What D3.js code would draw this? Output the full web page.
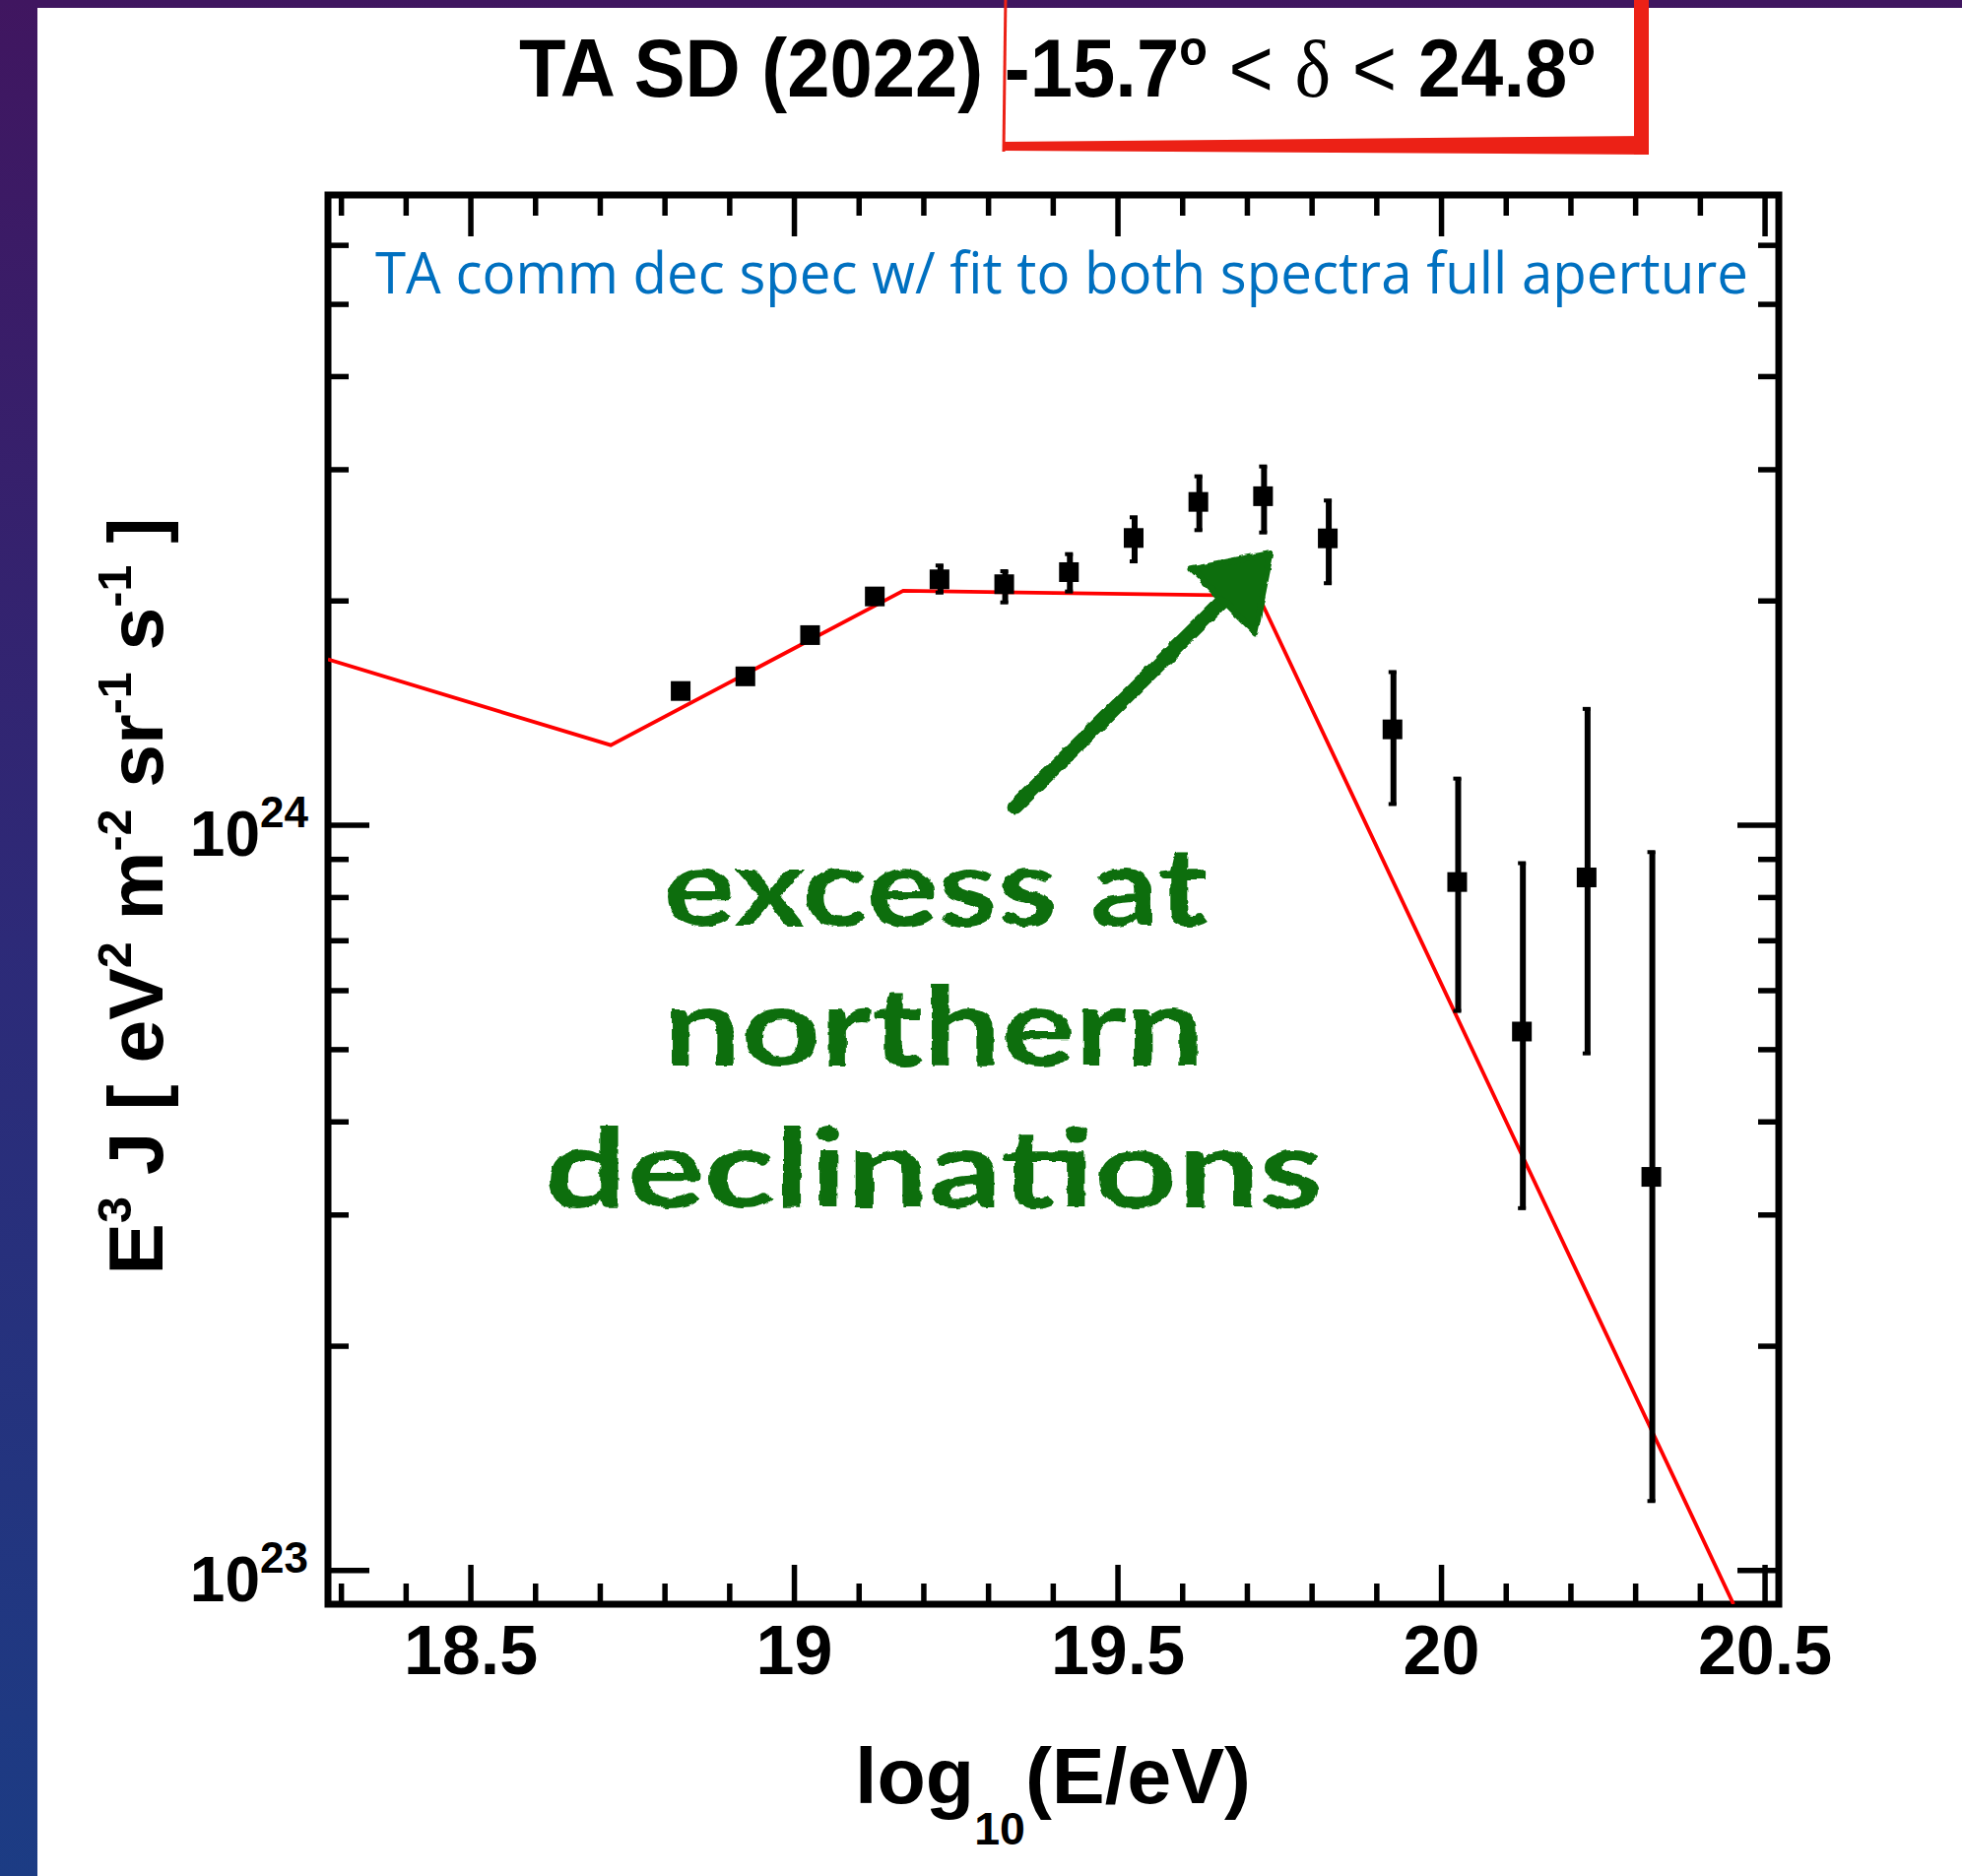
<!DOCTYPE html>
<html>
<head>
<meta charset="utf-8">
<script src="https://cdn.jsdelivr.net/npm/d3@7"></script>
<style>
  body { margin: 0; background: #fff; }
  svg { display: block; }
</style>
</head>
<body>
<div id="chart"></div>
<script>
// TA SD (2022) spectrum, -15.7 < dec < 24.8, with common-declination fit

// data points: log10(E/eV) bin centres, E^3 J and error bar ends
var logE = [18.825, 18.925, 19.025, 19.125, 19.225, 19.325, 19.425, 19.525,
            19.625, 19.725, 19.825, 19.925, 20.025, 20.125, 20.225, 20.325];
var flux = [1.512e24, 1.582e24, 1.797e24, 2.025e24, 2.135e24, 2.103e24, 2.183e24, 2.426e24,
            2.712e24, 2.760e24, 2.423e24, 1.343e24, 8.38e23, 5.28e23, 8.50e23, 3.37e23];
var fluxHi = [1.55e24, 1.62e24, 1.84e24, 2.07e24, 2.235e24, 2.196e24, 2.315e24, 2.594e24,
              2.944e24, 3.035e24, 2.732e24, 1.608e24, 1.157e24, 8.91e23, 1.435e24, 9.22e23];
var fluxLo = [1.475e24, 1.545e24, 1.755e24, 1.98e24, 2.043e24, 1.982e24, 2.05e24, 2.25e24,
              2.478e24, 2.46e24, 2.103e24, 1.063e24, 5.61e23, 3.05e23, 4.92e23, 1.234e23];

// broken power law fit (break points)
var fitLogE = [18.28, 18.717, 19.169, 19.718, 20.452];
var fitFlux = [1.667e24, 1.279e24, 2.061e24, 2.029e24, 9.0e22];

// axis ticks
var xMajor = [18.5, 19, 19.5, 20, 20.5];
var xMinor = [18.3, 18.4, 18.6, 18.7, 18.8, 18.9, 19.1, 19.2, 19.3, 19.4, 19.6, 19.7,
              19.8, 19.9, 20.1, 20.2, 20.3, 20.4];
var yMajor = [1e23, 1e24];
var yMinor = [2e23, 3e23, 4e23, 5e23, 6e23, 7e23, 8e23, 9e23, 2e24, 3e24, 4e24, 5e24, 6e24];

// annotation arrow (data coords): tail -> tip
var arrowFrom = [19.341, 1.055e24];
var arrowTo = [19.737, 2.313e24];
var noteLines = ["excess at", "northern", "declinations"];

var W = 1992, H = 1905;
var frame = { left: 333, right: 1806, top: 198, bottom: 1629 };

var svg = d3.select("#chart").append("svg")
  .attr("width", W)
  .attr("height", H);

var defs = svg.append("defs");
var bg = defs.append("linearGradient")
  .attr("id", "slideBg")
  .attr("x1", 0).attr("y1", 0).attr("x2", 0).attr("y2", 1);
bg.append("stop").attr("offset", "0%").attr("stop-color", "#401660");
bg.append("stop").attr("offset", "50%").attr("stop-color", "#2d2a78");
bg.append("stop").attr("offset", "100%").attr("stop-color", "#1c3c84");

var rough = defs.append("filter").attr("id", "rough")
  .attr("x", "-5%").attr("y", "-10%").attr("width", "110%").attr("height", "120%");
rough.append("feTurbulence")
  .attr("type", "fractalNoise")
  .attr("baseFrequency", 0.09)
  .attr("numOctaves", 2)
  .attr("seed", 3)
  .attr("result", "noise");
rough.append("feDisplacementMap")
  .attr("in", "SourceGraphic")
  .attr("in2", "noise")
  .attr("scale", 5)
  .attr("xChannelSelector", "R")
  .attr("yChannelSelector", "G");

defs.append("clipPath").attr("id", "plotClip")
  .append("rect")
  .attr("x", frame.left).attr("y", frame.top)
  .attr("width", frame.right - frame.left)
  .attr("height", frame.bottom - frame.top);

// slide background + white panel
svg.append("rect").attr("width", W).attr("height", H).attr("fill", "url(#slideBg)");
svg.append("rect").attr("x", 38).attr("y", 8).attr("width", W - 38).attr("height", H - 8)
  .attr("fill", "#fff");

// scales
var x = d3.scaleLinear().domain([18.28, 20.522]).range([frame.left, frame.right]);
var y = d3.scaleLog().domain([9e22, 7e24]).range([frame.bottom, frame.top]);

var axisFont = "'Liberation Sans', Arial, Helvetica, sans-serif";

function styleAxis(g) {
  g.select(".domain").remove();
  g.selectAll(".tick line").attr("stroke", "#000").attr("stroke-width", 5.5);
}

// bottom axis
svg.append("g")
  .attr("transform", `translate(0, ${frame.bottom})`)
  .call(d3.axisBottom(x).tickValues(xMinor).tickSize(-21).tickFormat(""))
  .call(styleAxis);

svg.append("g")
  .attr("transform", `translate(0, ${frame.bottom})`)
  .call(d3.axisBottom(x).tickValues(xMajor).tickSize(-40).tickPadding(21)
    .tickFormat(d => d % 1 === 0 ? d3.format("d")(d) : d3.format(".1f")(d)))
  .call(styleAxis)
  .call(g => g.selectAll(".tick text")
    .attr("font-family", axisFont)
    .attr("font-weight", "bold")
    .attr("font-size", 70)
    .attr("fill", "#000"));

// top axis
svg.append("g")
  .attr("transform", `translate(0, ${frame.top})`)
  .call(d3.axisTop(x).tickValues(xMinor).tickSize(-21).tickFormat(""))
  .call(styleAxis);
svg.append("g")
  .attr("transform", `translate(0, ${frame.top})`)
  .call(d3.axisTop(x).tickValues(xMajor).tickSize(-42).tickFormat(""))
  .call(styleAxis);

// left axis
svg.append("g")
  .attr("transform", `translate(${frame.left}, 0)`)
  .call(d3.axisLeft(y).tickValues(yMinor).tickSize(-21).tickFormat(""))
  .call(styleAxis);

var yLeft = svg.append("g")
  .attr("transform", `translate(${frame.left}, 0)`)
  .call(d3.axisLeft(y).tickValues(yMajor).tickSize(-42).tickPadding(20).tickFormat(""))
  .call(styleAxis);

yLeft.selectAll(".tick text").each(function(d) {
  var t = d3.select(this)
    .attr("dy", null)
    .attr("y", 31)
    .attr("font-family", axisFont)
    .attr("font-weight", "bold")
    .attr("fill", "#000")
    .text(null);
  t.append("tspan").attr("font-size", 64).text("10");
  t.append("tspan").attr("font-size", 44).attr("dy", -29).text(Math.round(Math.log10(d)));
});

// right axis
svg.append("g")
  .attr("transform", `translate(${frame.right}, 0)`)
  .call(d3.axisRight(y).tickValues(yMinor).tickSize(-21).tickFormat(""))
  .call(styleAxis);
svg.append("g")
  .attr("transform", `translate(${frame.right}, 0)`)
  .call(d3.axisRight(y).tickValues(yMajor).tickSize(-42).tickFormat(""))
  .call(styleAxis);

// frame
svg.append("rect")
  .attr("x", frame.left).attr("y", frame.top)
  .attr("width", frame.right - frame.left)
  .attr("height", frame.bottom - frame.top)
  .attr("fill", "none")
  .attr("stroke", "#000")
  .attr("stroke-width", 7);

// fit line
var fitLine = d3.line()
  .x((d, i) => x(fitLogE[i]))
  .y(d => y(d));

svg.append("path")
  .attr("clip-path", "url(#plotClip)")
  .attr("d", fitLine(fitFlux))
  .attr("fill", "none")
  .attr("stroke", "#ff0000")
  .attr("stroke-width", 3.8);

// error bars + markers
var pts = svg.append("g").selectAll("g")
  .data(logE.map((e, i) => ({ e: e, f: flux[i], hi: fluxHi[i], lo: fluxLo[i] })))
  .enter()
  .append("g");

pts.append("line")
  .attr("x1", d => x(d.e) + 1)
  .attr("x2", d => x(d.e) + 1)
  .attr("y1", d => y(d.hi))
  .attr("y2", d => y(d.lo))
  .attr("stroke", "#000")
  .attr("stroke-width", 6);

pts.append("rect")
  .attr("x", d => x(d.e) - 4)
  .attr("y", d => y(d.hi) - 1)
  .attr("width", 8).attr("height", 4)
  .attr("fill", "#000");
pts.append("rect")
  .attr("x", d => x(d.e) - 4)
  .attr("y", d => y(d.lo) - 3)
  .attr("width", 8).attr("height", 4)
  .attr("fill", "#000");

pts.append("rect")
  .attr("x", d => x(d.e) - 10)
  .attr("y", d => y(d.f) - 10)
  .attr("width", 20)
  .attr("height", 20)
  .attr("fill", "#000");

// blue caption inside the frame
svg.append("text")
  .attr("x", 381)
  .attr("y", 298)
  .attr("font-family", "'Open Sans', 'Noto Sans', sans-serif")
  .attr("font-size", 58)
  .attr("fill", "#0070c0")
  .attr("textLength", 1394)
  .attr("lengthAdjust", "spacingAndGlyphs")
  .text("TA comm dec spec w/ fit to both spectra full aperture");

// green hand-drawn arrow
var green = "#0a6e0a";
var p0 = [x(arrowFrom[0]), y(arrowFrom[1])];
var p1 = [x(arrowTo[0]), y(arrowTo[1])];
var len = Math.hypot(p1[0] - p0[0], p1[1] - p0[1]);
var ux = (p1[0] - p0[0]) / len, uy = (p1[1] - p0[1]) / len;
var headLen = 68, headHalf = 46;
var base = [p1[0] - ux * headLen, p1[1] - uy * headLen];

var arrowG = svg.append("g").attr("filter", "url(#rough)");
arrowG.append("line")
  .attr("x1", p0[0]).attr("y1", p0[1])
  .attr("x2", base[0] + ux * 10).attr("y2", base[1] + uy * 10)
  .attr("stroke", green)
  .attr("stroke-width", 15)
  .attr("stroke-linecap", "round");
arrowG.append("path")
  .attr("d", "M" + p1 +
    "L" + [base[0] - uy * headHalf, base[1] + ux * headHalf] +
    "L" + [base[0] + uy * headHalf, base[1] - ux * headHalf] + "Z")
  .attr("fill", green)
  .attr("stroke", green)
  .attr("stroke-width", 6)
  .attr("stroke-linejoin", "round");

// green note
var noteG = svg.append("g").attr("filter", "url(#rough)");
var notePos = [[950, 940, 553], [948, 1082, 549], [948, 1226, 790]];
noteG.selectAll("text")
  .data(noteLines)
  .enter()
  .append("text")
  .attr("x", (d, i) => notePos[i][0])
  .attr("y", (d, i) => notePos[i][1])
  .attr("text-anchor", "middle")
  .attr("font-family", "Lato, 'Noto Sans', sans-serif")
  .attr("font-weight", "bold")
  .attr("font-size", 112)
  .attr("fill", green)
  .attr("textLength", (d, i) => notePos[i][2])
  .attr("lengthAdjust", "spacingAndGlyphs")
  .text(d => d);

// fit a text element horizontally to a target width
function fitWidth(sel, target, cx, cy, rotate) {
  var bb = sel.node().getBBox();
  var s = target / bb.width;
  var tx = rotate ? `translate(${cx},${cy}) rotate(-90) scale(${s},1)` :
    `translate(${cx},${cy}) scale(${s},1)`;
  sel.attr("transform", tx);
}

// x axis title
var xTitle = svg.append("text")
  .attr("text-anchor", "middle")
  .attr("font-family", axisFont)
  .attr("font-weight", "bold")
  .attr("font-size", 80)
  .attr("fill", "#000");
xTitle.append("tspan").text("log");
xTitle.append("tspan").attr("font-size", 46).attr("dy", 42).text("10");
xTitle.append("tspan").attr("dy", -42).text("(E/eV)");
fitWidth(xTitle, 402, 1069, 1831, false);

// y axis title
var yTitle = svg.append("text")
  .attr("text-anchor", "middle")
  .attr("font-family", axisFont)
  .attr("font-weight", "bold")
  .attr("font-size", 78)
  .attr("fill", "#000");
[["E", 0], ["3", 1], [" J [ eV", 0], ["2", 1], [" m", 0], ["-2", 1], [" sr", 0], ["-1", 1],
 [" s", 0], ["-1", 1], [" ]", 0]].forEach(function(p, i, arr) {
  var prevSup = i > 0 && arr[i - 1][1];
  var dy = p[1] ? -32 : (prevSup ? 32 : 0);
  yTitle.append("tspan")
    .attr("font-size", p[1] ? 48 : 78)
    .attr("dy", dy)
    .text(p[0]);
});
fitWidth(yTitle, 769, 165, 910, true);

// slide title
var title = svg.append("text")
  .attr("font-family", axisFont)
  .attr("font-weight", "bold")
  .attr("font-size", 83)
  .attr("fill", "#000");
title.append("tspan").text("TA SD (2022) -15.7");
title.append("tspan").attr("font-size", 50).attr("dy", -32).text("o");
title.append("tspan").attr("dy", 32).attr("font-weight", "normal").text(" < ");
title.append("tspan").attr("font-weight", "normal")
  .attr("font-family", "'Liberation Serif', 'DejaVu Serif', serif").text("\u03b4");
title.append("tspan").attr("font-weight", "normal").text(" < ");
title.append("tspan").text("24.8");
title.append("tspan").attr("font-size", 50).attr("dy", -32).text("o");
var tb = title.node().getBBox();
title.attr("transform", `translate(527,98) scale(${1093 / tb.width},1)`);

// red highlight box drawn over the title
var red = "#ec2116";
var box = svg.append("g");
box.append("line")
  .attr("x1", 1021).attr("y1", -5).attr("x2", 1019).attr("y2", 154)
  .attr("stroke", red).attr("stroke-width", 3);
box.append("path")
  .attr("d", "M1018,144 L1672,138 L1674,157 L1018,153 Z")
  .attr("fill", red);
box.append("rect")
  .attr("x", 1659).attr("y", -5).attr("width", 15).attr("height", 162)
  .attr("fill", red);
</script>
</body>
</html>
